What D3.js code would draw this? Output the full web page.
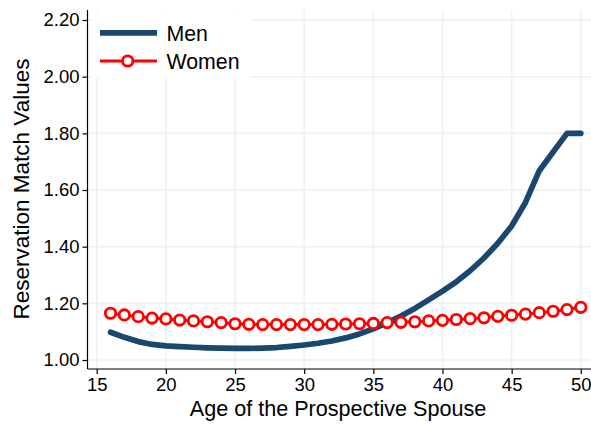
<!DOCTYPE html>
<html>
<head>
<meta charset="utf-8">
<script src="https://cdn.jsdelivr.net/npm/d3@7"></script>
<style>
  body { margin: 0; background: #fff; }
  text { font-family: "Liberation Sans", Arial, sans-serif; fill: #000; }
</style>
</head>
<body>
<div id="chart"></div>
<script>
const ages = d3.range(16, 51);
const men = [1.098, 1.080, 1.065, 1.055, 1.050, 1.047, 1.045, 1.043, 1.042, 1.041,
             1.041, 1.042, 1.044, 1.048, 1.053, 1.059, 1.067, 1.078, 1.092, 1.110,
             1.132, 1.155, 1.182, 1.212, 1.243, 1.276, 1.315, 1.360, 1.412, 1.473,
             1.556, 1.668, 1.734, 1.800, 1.800];
const women = [1.165, 1.159, 1.153, 1.148, 1.145, 1.141, 1.138, 1.135, 1.132, 1.128,
               1.126, 1.125, 1.125, 1.125, 1.125, 1.125, 1.126, 1.127, 1.128, 1.129,
               1.132, 1.133, 1.135, 1.138, 1.140, 1.143, 1.146, 1.149, 1.154, 1.158,
               1.162, 1.167, 1.172, 1.178, 1.186];
const xTicks = [15, 20, 25, 30, 35, 40, 45, 50];
const yTicks = [1.00, 1.20, 1.40, 1.60, 1.80, 2.00, 2.20];

const width = 591, height = 424;
const plotLeft = 87.5, plotRight = 591, plotTop = 10, plotBottom = 369;

const x = d3.scaleLinear().domain([15, 50]).range([96.7, 580.8]);
const y = d3.scaleLinear().domain([1.0, 2.2]).range([360, 20]);

const svg = d3.select("#chart").append("svg")
    .attr("width", width)
    .attr("height", height);

// grid
svg.append("g").selectAll("line").data(xTicks).enter().append("line")
    .attr("x1", d => x(d)).attr("x2", d => x(d))
    .attr("y1", plotTop).attr("y2", plotBottom)
    .attr("stroke", "#eaf2f3").attr("stroke-width", 1.5);
svg.append("g").selectAll("line").data(yTicks).enter().append("line")
    .attr("x1", plotLeft).attr("x2", plotRight)
    .attr("y1", d => y(d)).attr("y2", d => y(d))
    .attr("stroke", "#eaf2f3").attr("stroke-width", 1.5);

// axes
const xAxis = svg.append("g").attr("transform", `translate(0,${plotBottom})`)
    .call(d3.axisBottom(x).tickValues(xTicks).tickSize(5).tickPadding(4).tickSizeOuter(0));
xAxis.select(".domain").attr("d", `M${plotLeft},0H${plotRight}`);
const yAxis = svg.append("g").attr("transform", `translate(${plotLeft},0)`)
    .call(d3.axisLeft(y).tickValues(yTicks).tickFormat(d3.format(".2f")).tickSize(5).tickPadding(3).tickSizeOuter(0));
yAxis.select(".domain").attr("d", `M0,${plotTop}V${plotBottom}`);
svg.selectAll(".tick text").attr("font-size", 18.5).attr("font-family", "Liberation Sans, Arial, sans-serif");
svg.selectAll(".domain, .tick line").attr("stroke", "#000").attr("stroke-width", 1.2);

// series
const line = d3.line().x((d, i) => x(ages[i])).y(d => y(d));
svg.append("path").datum(women)
    .attr("d", line).attr("fill", "none")
    .attr("stroke", "#ff0000").attr("stroke-width", 3);
svg.append("path").datum(men)
    .attr("d", line).attr("fill", "none")
    .attr("stroke", "#1a476f").attr("stroke-width", 5.7)
    .attr("stroke-linecap", "round").attr("stroke-linejoin", "round");
svg.append("g").selectAll("circle").data(women).enter().append("circle")
    .attr("cx", (d, i) => x(ages[i])).attr("cy", d => y(d))
    .attr("r", 5.2).attr("fill", "#fff")
    .attr("stroke", "#ff0000").attr("stroke-width", 2.8);

// legend
const lg = svg.append("g");
lg.append("rect").attr("x", 92).attr("y", 12).attr("width", 158).attr("height", 66).attr("fill", "#fff");
lg.append("line").attr("x1", 100).attr("x2", 157).attr("y1", 32.8).attr("y2", 32.8)
    .attr("stroke", "#1a476f").attr("stroke-width", 5.7);
lg.append("text").attr("x", 166.5).attr("y", 40.5).attr("font-size", 21.3).text("Men");
lg.append("line").attr("x1", 100).attr("x2", 157).attr("y1", 61).attr("y2", 61)
    .attr("stroke", "#ff0000").attr("stroke-width", 3);
lg.append("circle").attr("cx", 127.7).attr("cy", 61).attr("r", 5.2)
    .attr("fill", "#fff").attr("stroke", "#ff0000").attr("stroke-width", 2.8);
lg.append("text").attr("x", 166.5).attr("y", 69).attr("font-size", 21.3).text("Women");

// titles
svg.append("text").attr("x", 338).attr("y", 415.5)
    .attr("text-anchor", "middle").attr("font-size", 21.6)
    .text("Age of the Prospective Spouse");
svg.append("text").attr("transform", "translate(29,189) rotate(-90)")
    .attr("text-anchor", "middle").attr("font-size", 22.5)
    .text("Reservation Match Values");
</script>
</body>
</html>
